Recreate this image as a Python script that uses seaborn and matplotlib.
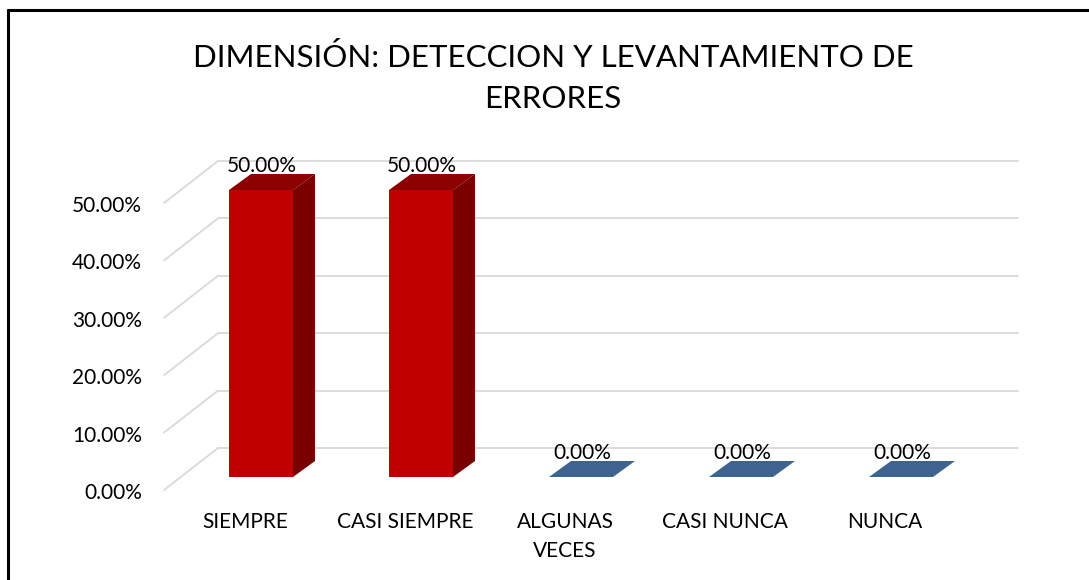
import matplotlib
matplotlib.use("Agg")
import matplotlib.pyplot as plt
import seaborn as sns
import pandas as pd
from matplotlib.patches import Polygon
from matplotlib.lines import Line2D
from matplotlib.transforms import ScaledTranslation, IdentityTransform

# ---- data ----
categories = ["SIEMPRE", "CASI SIEMPRE", "ALGUNAS\nVECES", "CASI NUNCA", "NUNCA"]
values = [0.50, 0.50, 0.0, 0.0, 0.0]
value_labels = ["50.00%", "50.00%", "0.00%", "0.00%", "0.00%"]
tick_values = [0.0, 0.1, 0.2, 0.3, 0.4, 0.5]
tick_labels = ["0.00%", "10.00%", "20.00%", "30.00%", "40.00%", "50.00%"]
title = "DIMENSIÓN: DETECCION Y LEVANTAMIENTO DE\nERRORES"

# ---- styling ----
W, H = 1089, 580
front_colors = ["#C00000", "#C00000", "#3E6391", "#3E6391", "#3E6391"]
side_colors = ["#7A0000", "#7A0000", "#2C4A6E", "#2C4A6E", "#2C4A6E"]
top_colors = ["#8C0000", "#8C0000", "#3E6391", "#3E6391", "#3E6391"]
grid_color = "#D9D9D9"
bar_depth = (22, 16)      # pixels
back_off = (37, 29)       # pixels, back wall relative to bar front
front_off = (-17, -13)    # pixels, floor front edge relative to bar front

sns.set_theme(style="white")
plt.rcParams['font.family'] = ['Lato', 'DejaVu Sans']

fig = plt.figure(figsize=(W / 100, H / 100), dpi=100)
ax = fig.add_axes([181 / W, 103 / H, 800 / W, 287 / H])

df = pd.DataFrame({"cat": categories, "val": values})
sns.barplot(data=df, x="cat", y="val", hue="cat", palette=front_colors,
            width=0.4, legend=False, ax=ax, saturation=1, zorder=3,
            linewidth=0)
ax.set_xlim(-0.5, 4.5)
ax.set_ylim(0, 0.5)
for s in ax.spines.values():
    s.set_visible(False)
ax.set_xlabel("")
ax.set_ylabel("")

T = ax.transData.transform
x0, x1 = ax.get_xlim()

# grid: back wall lines and floor/side diagonals
for t in tick_values:
    a = T((x0, t))
    b = T((x1, t))
    ax.add_line(Line2D([a[0] + back_off[0], b[0] + back_off[0]],
                       [a[1] + back_off[1], b[1] + back_off[1]],
                       transform=IdentityTransform(), color=grid_color,
                       lw=1.3, clip_on=False, zorder=1))
    ax.add_line(Line2D([a[0] + front_off[0], a[0] + back_off[0]],
                       [a[1] + front_off[1], a[1] + back_off[1]],
                       transform=IdentityTransform(), color=grid_color,
                       lw=1.3, clip_on=False, zorder=1))

# 3D faces
bw = 0.4
for i, v in enumerate(values):
    xl, xr = i - bw / 2, i + bw / 2
    pl, pr = T((xl, v)), T((xr, v))
    p0 = T((xr, 0))
    top = [pl, pr, (pr[0] + bar_depth[0], pr[1] + bar_depth[1]),
           (pl[0] + bar_depth[0], pl[1] + bar_depth[1])]
    ax.add_patch(Polygon(top, closed=True, transform=IdentityTransform(),
                         facecolor=top_colors[i], edgecolor="none",
                         clip_on=False, zorder=4))
    if v > 0:
        side = [p0, pr, (pr[0] + bar_depth[0], pr[1] + bar_depth[1]),
                (p0[0] + bar_depth[0], p0[1] + bar_depth[1])]
        ax.add_patch(Polygon(side, closed=True, transform=IdentityTransform(),
                             facecolor=side_colors[i], edgecolor="none",
                             clip_on=False, zorder=4))

# value labels
for i, (v, lab) in enumerate(zip(values, value_labels)):
    ax.annotate(lab, (i, v), xytext=(1, 24), textcoords="offset pixels",
                ha="center", va="center", fontsize=15, color="#000000",
                zorder=6, annotation_clip=False)

# ticks
ax.set_yticks(tick_values, tick_labels)
ax.tick_params(axis="y", length=0, pad=28, labelsize=15, labelcolor="#000000")
for lab in ax.get_yticklabels():
    lab.set_transform(lab.get_transform() +
                      ScaledTranslation(0, -14 / 100, fig.dpi_scale_trans))
ax.set_xticks(range(len(categories)), categories)
ax.tick_params(axis="x", length=0, pad=25, labelsize=15, labelcolor="#000000")
for lab in ax.get_xticklabels():
    lab.set_transform(lab.get_transform() +
                      ScaledTranslation(-16 / 100, 0, fig.dpi_scale_trans))
    lab.set_linespacing(1.55)

# title
fig.text(553 / W, 1 - 78 / H, title, ha="center", va="center",
         fontsize=22.5, color="#000000", linespacing=1.6)

# border (top and left)
fig.add_artist(Line2D([8 / W, 1], [1 - 10 / H, 1 - 10 / H],
                      transform=fig.transFigure, color="black", lw=2.2))
fig.add_artist(Line2D([8 / W, 8 / W], [0, 1 - 10 / H],
                      transform=fig.transFigure, color="black", lw=2.2))

fig.savefig("out.png", dpi=100)
